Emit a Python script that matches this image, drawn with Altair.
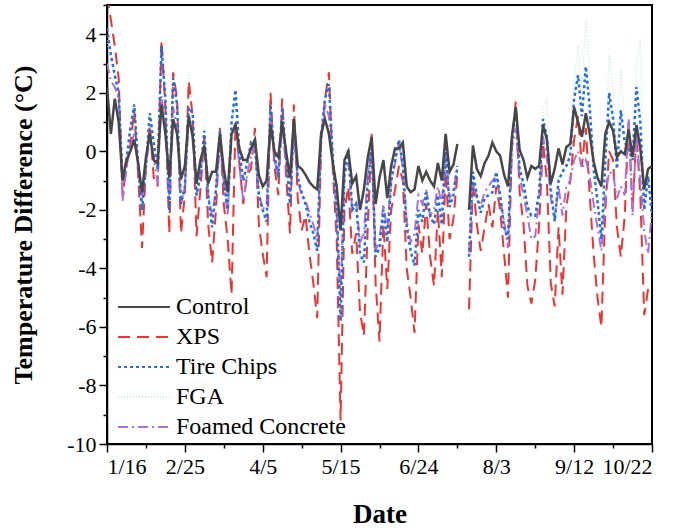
import json
import altair as alt
import pandas as pd

# x positions: days since 1/16 (gap in mid-July)
days = list(range(0, 181, 2)) + list(range(186, 281, 2))

control = [
    2.2, 0.6, 1.8, 1.0, -1.0, -0.3, 0.0, 0.4, -0.4, -1.4,
    -0.2, 0.6, -0.3, -0.4, 1.6, 0.6, -0.9, 1.1, 0.6, -0.95,
    -0.5, 1.2, 0.5, -1.1, -0.3, 0.2, -1.1, -0.7, -0.7, 0.6,
    -0.6, -1.4, 0.6, 0.9, 0.1, -0.3, -0.3, 0.1, 0.4, -0.8,
    -1.2, -1.0, 0.9, 0.0, -0.2, 1.0, 0.0, -0.9, 1.1, -0.5,
    -0.6, -0.8, -1.05, -1.2, -1.3, 0.6, 1.1, 0.6, -0.4, -1.2,
    -2.7, -0.3, 0.0, -1.1, -0.85, -2.0, -1.3, -0.2, 0.5, -1.8,
    -0.9, -0.3, -1.6, -0.5, 0.1, 0.1, 0.3, -1.2, -1.4, -1.3,
    -0.5, -1.0, -0.7, -1.0, -1.2, -0.4, -1.0, 0.6, -0.7, -0.45,
    0.25,
    -2.0, 0.2, -0.6, -0.85, -0.4, -0.15, 0.3, 0.0, -0.15, -0.8,
    -1.2, 0.5, 1.5, 0.05, -0.3, -0.9, -0.5, -0.6, -0.5, 0.9,
    0.4, -1.1, -0.6, 0.1, -0.45, 0.15, 0.25, 1.5, 1.0, 0.5,
    1.3, 0.6, -0.35, -0.9, -1.2, 0.6, 1.0, 0.7, -0.2, 0.0,
    -0.1, 0.75, -0.2, 0.9, 0.1, -1.3, -0.6, -0.5,
]

xps = [
    5.3, 4.5, 3.6, 2.5, -1.5, -0.5, 0.2, 1.4, -0.8, -3.3,
    -0.5, 0.9, -0.9, -1.2, 3.8, 1.5, -2.8, 2.7, 1.8, -2.8,
    -1.5, 2.4, 1.2, -2.9, -1.3, 0.5, -2.5, -3.8, -2.0, 0.8,
    -1.8, -3.0, -4.9, 1.0, -0.4, -1.8, -0.8, -0.6, 0.8, -2.5,
    -3.5, -4.3, 2.0, -0.5, -1.5, 1.8, -0.8, -2.8, 1.6, -1.6,
    -2.7, -2.2, -3.5, -4.5, -5.7, 0.4, 1.8, 2.7, -0.6, -3.0,
    -9.2, -2.0, -1.2, -3.5, -2.8, -5.5, -6.3, -2.5, 0.6, -4.5,
    -6.5, -2.5, -4.7, -2.0, -1.3, -0.5, -1.0, -4.0, -5.0, -6.2,
    -2.5, -3.5, -1.8, -3.6, -4.6, -2.0, -4.3, -0.7, -3.0, -2.3,
    -0.8,
    -5.4, -1.0, -2.5, -3.4, -2.6, -1.8, -2.6, -1.2, -2.0, -3.5,
    -5.0, 0.2, 1.7, -1.4, -2.5, -4.6, -5.2, -4.4, -2.5, 0.3,
    -1.0, -4.5, -5.3, -2.6, -4.9, -1.9, -1.0, 0.4, 1.2, -0.5,
    0.8, -1.5, -3.5, -5.0, -6.0, -2.0, 0.0, -0.3, -2.6, -3.6,
    -2.2, 1.1, -2.0, 0.6, -1.5, -5.6, -4.7, -4.5,
]

tire = [
    4.2, 3.3, 2.6, 2.0, -1.0, -0.3, 0.8, 1.6, -0.5, -2.0,
    -0.5, 1.3, 0.3, -0.6, 3.6, 1.8, -2.0, 2.5, 1.6, -1.8,
    -1.2, 1.5, 1.3, -1.5, -0.8, 0.7, -1.5, -2.6, -1.3, 0.7,
    -1.0, -2.0, 1.0, 2.1, 0.0, -1.0, -0.4, 0.3, 0.2, -1.5,
    -2.0, -2.4, 1.6, -0.1, -0.9, 1.5, -0.2, -1.8, 1.0, -0.9,
    -1.4, -1.8, -2.4, -2.8, -3.4, 0.5, 1.8, 2.3, -0.2, -2.0,
    -5.8, -0.8, 0.1, -2.0, -1.8, -3.5, -3.8, -1.0, 0.1, -3.6,
    -3.3, -2.0, -3.1, -1.0, -0.3, 0.4, -0.5, -2.6, -3.4, -3.9,
    -2.0, -2.4, -1.4, -2.2, -2.5, -1.5, -2.5, 0.1, -1.9, -1.5,
    -0.5,
    -3.6, -0.7, -1.5, -2.1, -1.6, -1.5, -1.4, -0.7, -1.5, -2.6,
    -3.0, 0.3, 1.5, -0.6, -1.1, -1.9, -2.2, -2.2, -1.4, 1.1,
    0.5, -1.3, -2.4, -1.0, -0.7, -0.5, -0.15, 1.8, 2.6, 1.2,
    2.9, 1.5, -0.6, -1.7, -3.0, -0.4, 2.0, 1.1, -0.6, 1.4,
    0.3, 0.1, -0.3, 2.2, 1.0, -2.0, -0.85, -2.2,
]

fga = [
    3.8, 3.0, 2.6, 2.1, -1.3, -0.4, 0.6, 1.5, -0.6, -2.0,
    -0.5, 1.2, 0.2, -0.7, 3.2, 1.6, -1.8, 2.4, 1.5, -1.9,
    -1.2, 2.7, 1.4, -1.7, -0.8, 0.9, -1.6, -2.6, -1.4, 0.7,
    -1.1, -2.3, 0.8, 1.8, 0.0, -1.2, -0.5, 0.2, 0.6, -1.6,
    -2.2, -2.5, 1.5, -0.2, -1.0, 1.4, -0.3, -1.9, 1.0, -1.0,
    -1.6, -1.9, -2.5, -3.0, -3.6, 0.4, 1.7, 2.2, -0.3, -2.2,
    -5.5, -1.0, -0.1, -2.2, -2.0, -3.7, -4.0, -1.2, 0.0, -3.8,
    -3.6, -2.1, -3.2, -1.2, -0.5, 0.2, -0.6, -2.8, -3.5, -4.1,
    -2.2, -2.6, -1.6, -2.4, -2.7, -1.6, -2.6, 0.0, -2.0, -1.6,
    -0.6,
    -3.8, -0.9, -1.7, -2.3, -1.8, -1.6, -1.2, -0.8, -1.7, -2.8,
    -3.2, 0.4, 1.8, -0.7, -1.2, -2.0, -2.4, -2.3, -1.5, 1.4,
    1.8, -1.2, -2.3, -0.9, -0.6, -0.3, 0.4, 2.4, 3.6, 2.0,
    4.5, 2.6, -0.4, -1.6, -2.9, 0.0, 3.3, 2.2, -0.3, 2.8,
    0.8, 0.4, -0.1, 3.0, 3.8, -1.8, -0.6, -1.9,
]

foamed = [
    3.0, 2.4, 2.2, 1.8, -1.7, -0.6, 0.2, 0.6, -0.6, -1.7,
    -0.5, 0.5, -0.2, -1.1, 1.9, 0.8, -1.5, 1.5, 0.8, -1.8,
    -1.2, 1.1, 0.6, -1.5, -0.7, 0.3, -1.5, -2.2, -1.3, 0.3,
    -1.0, -2.2, 0.5, 1.0, -0.5, -1.7, -0.8, -0.2, 0.2, -1.4,
    -2.0, -1.8, 1.3, -0.3, -0.8, 0.8, -0.4, -1.4, 0.7, -1.0,
    -1.5, -1.7, -2.1, -2.5, -3.0, 0.3, 1.6, 1.2, -0.4, -2.0,
    -5.0, -0.8, -0.4, -2.0, -1.7, -3.1, -2.8, -0.8, 0.2, -3.4,
    -3.0, -1.8, -2.7, -1.0, -0.4, 0.3, -0.6, -2.4, -3.1, -2.8,
    -1.5, -1.8, -1.3, -2.2, -2.0, -1.2, -1.8, -0.15, -1.6, -1.3,
    -0.6,
    -3.45, -1.0, -1.6, -1.85, -1.4, -1.2, -1.0, -0.85, -1.6, -2.4,
    -3.3, 0.1, 0.8, -0.9, -1.5, -2.2, -3.0, -2.9, -1.6, 0.5,
    -0.2, -1.6, -2.3, -1.2, -2.2, -1.2, -1.0, -0.3, 0.0, -0.6,
    -0.3, -0.85, -1.8, -2.6, -3.4, -1.5, -0.7, -0.8, -1.6, -1.2,
    -1.5, 1.1, -2.2, 0.6, -1.0, -2.7, -3.5, -2.0,
]

series_names = ["Control", "XPS", "Tire Chips", "FGA", "Foamed Concrete"]
series_values = [control, xps, tire, fga, foamed]
colors = ["#474747", "#EE3333", "#1F6FE0", "#CFEBE5", "#A970E0"]
dashes = [[1, 0], [12, 7], [3, 3], [1, 2], [10, 4, 2, 4]]
widths = {"Control": 2.5, "XPS": 2, "Tire Chips": 2.5, "FGA": 1.5, "Foamed Concrete": 2}
tick_labels = ["1/16", "2/25", "4/5", "5/15", "6/24", "8/3", "9/12", "10/22"]
draw_order = ["FGA", "XPS", "Foamed Concrete", "Tire Chips", "Control"]

rows = []
for name, vals in zip(series_names, series_values):
    for d, v in zip(days, vals):
        rows.append({"day": d, "value": v, "series": name, "seg": 0 if d <= 180 else 1})
df = pd.DataFrame(rows)

FONT = "'Liberation Serif', 'Times New Roman', serif"

x_enc = alt.X(
    "day:Q",
    scale=alt.Scale(domain=[0, 280], nice=False),
    axis=alt.Axis(
        title="Date",
        values=list(range(0, 281, 20)),
        labelExpr="datum.value % 40 == 0 ? " + json.dumps(tick_labels) + "[datum.value / 40] : ''",
        tickSize={"condition": {"test": "datum.value % 40 != 0", "value": 4}, "value": 8},
        labelFontSize=22,
        labelPadding=4,
        titleFontSize=27,
        titlePadding=24,
        grid=False,
        labelOverlap=False,
    ),
)
y_enc = alt.Y(
    "value:Q",
    scale=alt.Scale(domain=[-10, 5], nice=False),
    axis=alt.Axis(
        title="Temperature Difference (°C)",
        values=list(range(-10, 6)),
        labelExpr="datum.value % 2 == 0 ? '' + datum.value : ''",
        tickSize={"condition": {"test": "datum.value % 2 != 0", "value": 4}, "value": 8},
        labelFontSize=22,
        labelPadding=3,
        titleFontSize=26,
        titlePadding=30,
        grid=False,
        labelOverlap=False,
    ),
)
color_enc = alt.Color(
    "series:N",
    scale=alt.Scale(domain=series_names, range=colors),
    legend=alt.Legend(title=None),
)
dash_enc = alt.StrokeDash(
    "series:N",
    scale=alt.Scale(domain=series_names, range=dashes),
    legend=alt.Legend(title=None),
)

layers = []
for name in draw_order:
    layers.append(
        alt.Chart(df)
        .transform_filter(alt.datum.series == name)
        .mark_line(strokeWidth=widths[name], clip=True)
        .encode(x=x_enc, y=y_enc, color=color_enc, strokeDash=dash_enc, detail="seg:N")
    )

chart = (
    alt.layer(*layers)
    .properties(
        width=545,
        height=439,
        autosize=alt.AutoSizeParams(type="none"),
        padding={"left": 107, "top": 5, "right": 28, "bottom": 85},
    )
    .configure_view(stroke="black", strokeWidth=2)
    .configure_axis(
        domainColor="black",
        domainWidth=1.5,
        tickColor="black",
        tickWidth=1.5,
        labelFont=FONT,
        titleFont=FONT,
        labelColor="black",
        titleColor="black",
        titleFontWeight="bold",
    )
    .configure_legend(
        orient="none",
        legendX=19,
        legendY=284,
        symbolType="M-1.55,0H1.55",
        symbolSize=1120,
        symbolStrokeWidth=2,
        symbolFillColor="transparent",
        labelFont=FONT,
        labelFontSize=24,
        labelColor="black",
        labelLimit=400,
        rowPadding=0,
        labelOffset=14,
    )
)

chart.save("out.html", embed_options={"renderer": "svg", "actions": False})
